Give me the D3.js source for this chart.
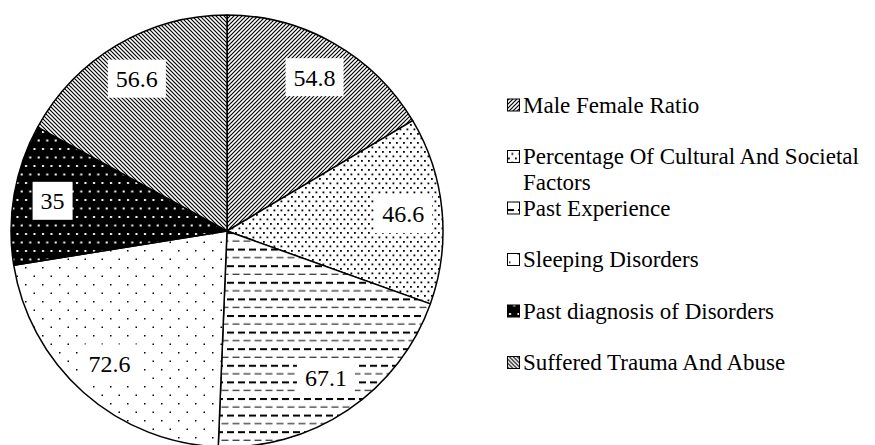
<!DOCTYPE html>
<html>
<head>
<meta charset="utf-8">
<script src="https://cdn.jsdelivr.net/npm/d3@7"></script>
<style>
  body { margin: 0; background: #fff; }
</style>
</head>
<body>
<div id="chart"></div>
<script>
const categories = ["Male Female Ratio", "Percentage Of Cultural And Societal Factors", "Past Experience",
    "Sleeping Disorders", "Past diagnosis of Disorders", "Suffered Trauma And Abuse"];
const values = [54.8, 46.6, 67.1, 72.6, 35, 56.6];
const patternIds = ["upDiag", "denseDots", "dashes", "sparseDots", "blackDots", "downDiag"];

const width = 875, height = 445;
const cx = 227, cy = 231, radius = 216;
const fontFamily = "'Liberation Serif', 'Times New Roman', 'DejaVu Serif', serif";

const svg = d3.select("#chart").append("svg")
    .attr("width", width)
    .attr("height", height)
    .attr("font-family", fontFamily);

const defs = svg.append("defs");

function makePattern(id, w, h, bg) {
    const p = defs.append("pattern")
        .attr("id", id)
        .attr("patternUnits", "userSpaceOnUse")
        .attr("width", w)
        .attr("height", h);
    p.append("rect").attr("width", w).attr("height", h).attr("fill", bg);
    return p;
}

// diagonal "/" lines
makePattern("upDiag", 4, 4, "#fff")
    .append("path")
    .attr("d", "M-1,1 l2,-2 M0,4 l4,-4 M3,5 l2,-2")
    .attr("stroke", "#000").attr("stroke-width", 1.2);

// diagonal "\" lines
makePattern("downDiag", 4, 4, "#fff")
    .append("path")
    .attr("d", "M-1,3 l2,2 M0,0 l4,4 M3,-1 l2,2")
    .attr("stroke", "#000").attr("stroke-width", 1.2);

// dense staggered dots
let p = makePattern("denseDots", 7, 9, "#fff");
p.append("rect").attr("x", 1).attr("y", 1).attr("width", 1.8).attr("height", 1.8).attr("fill", "#000");
p.append("rect").attr("x", 4.5).attr("y", 5.5).attr("width", 1.8).attr("height", 1.8).attr("fill", "#000");

// dashed horizontal lines, thick and thin rows
p = makePattern("dashes", 11, 16.6, "#fff");
p.append("rect").attr("x", 0).attr("y", 1).attr("width", 7).attr("height", 2).attr("fill", "#000");
p.append("rect").attr("x", 5.5).attr("y", 9.5).attr("width", 7).attr("height", 1).attr("fill", "#000");
p.append("rect").attr("x", -5.5).attr("y", 9.5).attr("width", 7).attr("height", 1).attr("fill", "#000");

// sparse staggered dots
p = makePattern("sparseDots", 17, 17, "#fff");
p.append("rect").attr("x", 2).attr("y", 2).attr("width", 1.5).attr("height", 1.5).attr("fill", "#000");
p.append("rect").attr("x", 10.5).attr("y", 10.5).attr("width", 1.5).attr("height", 1.5).attr("fill", "#000");

// black with white dots
p = makePattern("blackDots", 8.5, 17, "#000");
p.append("rect").attr("x", 2).attr("y", 2).attr("width", 2).attr("height", 2).attr("fill", "#fff");
p.append("rect").attr("x", 6.25).attr("y", 10.5).attr("width", 2).attr("height", 2).attr("fill", "#fff");

const pie = d3.pie().sort(null).value(d => d);
const arcs = pie(values);

const arc = d3.arc().innerRadius(0).outerRadius(radius);
const labelArc = d3.arc().innerRadius(177).outerRadius(177);

const g = svg.append("g").attr("transform", `translate(${cx}, ${cy})`);

g.selectAll("path.slice")
    .data(arcs)
    .join("path")
    .attr("class", "slice")
    .attr("d", arc)
    .attr("fill", (d, i) => `url(#${patternIds[i]})`)
    .attr("stroke", "#000")
    .attr("stroke-width", 1.5)
    .attr("stroke-linejoin", "round");

const labels = g.selectAll("g.label")
    .data(arcs)
    .join("g")
    .attr("class", "label")
    .attr("transform", d => `translate(${labelArc.centroid(d)})`);

labels.append("rect").attr("fill", "#fff");

labels.append("text")
    .attr("text-anchor", "middle")
    .attr("dy", "0.35em")
    .attr("font-family", fontFamily)
    .attr("font-size", 24)
    .text(d => d.data);

labels.each(function () {
    const sel = d3.select(this);
    const bb = sel.select("text").node().getBBox();
    sel.select("rect")
        .attr("x", bb.x - 8)
        .attr("y", -19)
        .attr("width", bb.width + 16)
        .attr("height", 38);
});

// legend
const legend = svg.append("g").attr("transform", "translate(507, 0)");
const rowY = d3.scalePoint().domain(d3.range(categories.length)).range([105, 362.5]);
const lineHeight = 26;

const rows = legend.selectAll("g.row")
    .data(categories)
    .join("g")
    .attr("class", "row")
    .attr("transform", (d, i) => `translate(0, ${rowY(i)})`);

rows.append("rect")
    .attr("x", 0.5)
    .attr("y", -6)
    .attr("width", 12)
    .attr("height", 12)
    .attr("fill", (d, i) => `url(#${patternIds[i]})`)
    .attr("stroke", "#000")
    .attr("stroke-width", 1);

rows.append("text")
    .attr("x", 16)
    .attr("font-family", fontFamily)
    .attr("font-size", 23)
    .each(function (d) {
        const t = d3.select(this);
        const lines = d === categories[1] ? ["Percentage Of Cultural And Societal", "Factors"] : [d];
        lines.forEach((line, k) => {
            t.append("tspan")
                .attr("x", 16)
                .attr("y", k * lineHeight)
                .attr("dy", "0.33em")
                .text(line);
        });
    });
</script>
</body>
</html>
